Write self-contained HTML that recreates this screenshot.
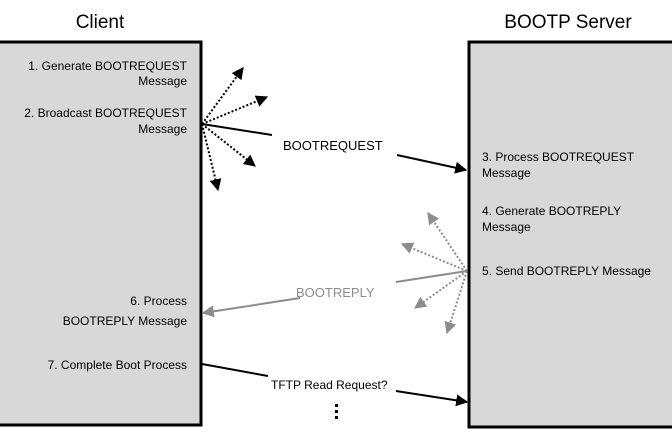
<!DOCTYPE html><html><head><style>body{margin:0;background:#fff}svg{display:block}text{font-family:"Liberation Sans",sans-serif;}</style></head><body>
<svg width="672" height="437" viewBox="0 0 672 437">
<defs>
<marker id="b" viewBox="0 0 10 10" refX="9" refY="5" markerWidth="6" markerHeight="6" orient="auto"><path d="M0,0L10,5L0,10z" fill="#000"/></marker>
<marker id="g" viewBox="0 0 10 10" refX="9" refY="5" markerWidth="6" markerHeight="6" orient="auto"><path d="M0,0L10,5L0,10z" fill="#8c8c8c"/></marker>
</defs>
<rect x="-3" y="42" width="204" height="383" fill="#d8d8d8" stroke="#000" stroke-width="3"/>
<rect x="469" y="42" width="205" height="385" fill="#d8d8d8" stroke="#000" stroke-width="3"/>
<text x="100" y="28" font-size="19" text-anchor="middle">Client</text>
<text x="568" y="28" font-size="19" text-anchor="middle">BOOTP Server</text>
<g font-size="12" text-anchor="end">
<text x="187" y="70">1. Generate BOOTREQUEST</text>
<text x="187" y="85">Message</text>
<text x="187" y="117">2. Broadcast BOOTREQUEST</text>
<text x="187" y="133">Message</text>
<text x="187" y="305">6. Process</text>
<text x="187" y="325">BOOTREPLY Message</text>
<text x="187" y="369">7. Complete Boot Process</text>
</g>
<g font-size="12">
<text x="482" y="161">3. Process BOOTREQUEST</text>
<text x="482" y="177">Message</text>
<text x="482" y="215">4. Generate BOOTREPLY</text>
<text x="482" y="231">Message</text>
<text x="482" y="275">5. Send BOOTREPLY Message</text>
<text x="283" y="150" font-size="13">BOOTREQUEST</text>
<text x="296" y="297" font-size="13" fill="#8c8c8c">BOOTREPLY</text>
<text x="271" y="389">TFTP Read Request?</text>
</g>
<g stroke="#000" stroke-width="2" stroke-dasharray="2,2" fill="none">
<line x1="202" y1="124" x2="243" y2="68" marker-end="url(#b)"/>
<line x1="202" y1="124" x2="267" y2="97" marker-end="url(#b)"/>
<line x1="202" y1="124" x2="255" y2="166" marker-end="url(#b)"/>
<line x1="202" y1="124" x2="218" y2="190" marker-end="url(#b)"/>
</g>
<line x1="202" y1="124" x2="272" y2="135" stroke="#000" stroke-width="2"/>
<line x1="397" y1="155" x2="466" y2="170" stroke="#000" stroke-width="2" marker-end="url(#b)"/>
<g stroke="#8c8c8c" stroke-width="2" stroke-dasharray="2,2" fill="none">
<line x1="467" y1="271" x2="428" y2="213" marker-end="url(#g)"/>
<line x1="467" y1="271" x2="402" y2="244" marker-end="url(#g)"/>
<line x1="467" y1="271" x2="415" y2="308" marker-end="url(#g)"/>
<line x1="467" y1="271" x2="447" y2="333" marker-end="url(#g)"/>
</g>
<line x1="467" y1="271" x2="396" y2="282" stroke="#8c8c8c" stroke-width="2"/>
<line x1="300" y1="298" x2="203" y2="313" stroke="#8c8c8c" stroke-width="2" marker-end="url(#g)"/>
<line x1="202" y1="364" x2="268" y2="376" stroke="#000" stroke-width="2"/>
<line x1="396" y1="391" x2="467" y2="402" stroke="#000" stroke-width="2" marker-end="url(#b)"/>
<g fill="#000"><rect x="335" y="404" width="3" height="3"/><rect x="335" y="410" width="3" height="3"/><rect x="335" y="416" width="3" height="3"/></g>
</svg></body></html>
